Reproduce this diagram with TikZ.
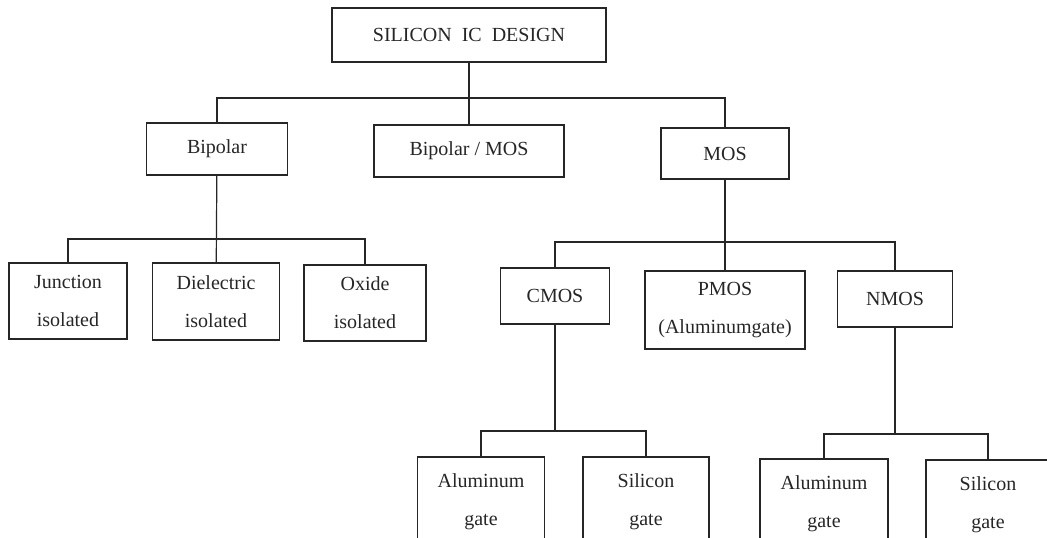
\documentclass[tikz,border=0pt]{standalone}
\usepackage{fontspec}
\setmainfont{Liberation Serif}
\begin{document}
\begin{tikzpicture}[x=1pt,y=-1pt,
  box/.style={draw=black!85, line width=1.2pt, text=black!85, align=center,
    inner sep=0pt, font=\fontsize{20}{38}\selectfont},
  conn/.style={draw=black!85, line width=1.2pt}]
\useasboundingbox (0,0) rectangle (1047,538);
\clip (0,0) rectangle (1047,538);
% level 0
\node[box, minimum width=274pt, minimum height=54pt] (top) at (469,35) {SILICON\ \ IC\ \ DESIGN};
% level 1
\node[box, minimum width=141pt, minimum height=52pt] (bip) at (217,149) {Bipolar};
\node[box, minimum width=190pt, minimum height=52pt] (bipmos) at (469,151) {Bipolar / MOS};
\node[box, minimum width=128pt, minimum height=51pt] (mos) at (725,153.5) {MOS};
% bipolar children
\node[box, minimum width=118pt, minimum height=76pt] (junc) at (68,301) {Junction\\isolated};
\node[box, minimum width=127pt, minimum height=77pt] (diel) at (216,301.5) {Dielectric\\isolated};
\node[box, minimum width=122pt, minimum height=76pt] (oxide) at (365,303) {Oxide\\isolated};
% MOS children
\node[box, minimum width=109pt, minimum height=56pt] (cmos) at (555,296) {CMOS};
\node[box, minimum width=160pt, minimum height=78pt] (pmos) at (725,310) {PMOS\\(Aluminumgate)};
\node[box, minimum width=115pt, minimum height=56pt] (nmos) at (895,299) {NMOS};
% bottom level
\node[box, minimum width=127pt, minimum height=90pt] (alc) at (481,502) {Aluminum\\gate};
\node[box, minimum width=126pt, minimum height=90pt] (sic) at (646,502) {Silicon\\gate};
\node[box, minimum width=128pt, minimum height=90pt] (aln) at (824,504) {Aluminum\\gate};
\node[box, minimum width=124pt, minimum height=90pt] (sin) at (988,505) {Silicon\\gate};
% bus coordinates
\coordinate (b0) at (469,98);
\coordinate (b1) at (217,239);
\coordinate (b2) at (725,242);
\coordinate (b3) at (555,431);
\coordinate (b4) at (895,434);
% connectors
\draw[conn] (top) -- (bipmos);
\draw[conn] (bip.north) |- (b0) -| (mos.north);
\draw[conn] (bip) -- (diel);
\draw[conn] (junc.north) |- (b1) -| (oxide.north);
\draw[conn] (mos) -- (pmos);
\draw[conn] (cmos.north) |- (b2) -| (nmos.north);
\draw[conn] (cmos.south) -- (b3);
\draw[conn] (alc.north) |- (b3) -| (sic.north);
\draw[conn] (nmos.south) -- (b4);
\draw[conn] (aln.north) |- (b4) -| (sin.north);
\end{tikzpicture}
\end{document}
